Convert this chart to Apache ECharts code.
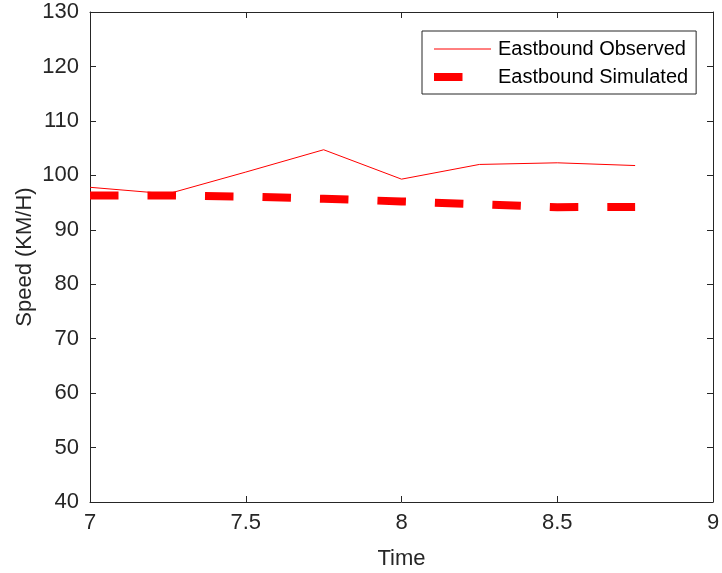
<!DOCTYPE html>
<html>
<head>
<meta charset="utf-8">
<script src="https://cdn.jsdelivr.net/npm/echarts@6/dist/echarts.min.js"></script>
<style>
  html, body { margin: 0; padding: 0; background: #ffffff; }
  #chart { width: 722px; height: 573px; }
</style>
</head>
<body>
<div id="chart"></div>
<script>
// Time of day (hours) at which speeds were sampled
const times = [7, 7.25, 7.5, 7.75, 8, 8.25, 8.5, 8.75];
// Eastbound speeds (km/h)
const observed = [97.8, 96.6, 100.6, 104.7, 99.3, 102.0, 102.3, 101.8];
const simulated = [96.3, 96.3, 96.1, 95.7, 95.2, 94.7, 94.15, 94.2];
// Axis ranges and tick steps
const xTicks = { min: 7, max: 9, step: 0.5 };
const yTicks = { min: 40, max: 130, step: 10 };
const seriesNames = ['Eastbound Observed', 'Eastbound Simulated'];

const FONT = '"Liberation Sans", Arial, Helvetica, sans-serif';
const INK = '#262626';
const RED = '#ff0000';
const DASH = [28.5, 29];

function pairs(xs, ys) { return xs.map((x, i) => [x, ys[i]]); }

const baseAxis = {
  type: 'value',
  axisLine: { show: true, onZero: false, lineStyle: { color: INK, width: 1 } },
  axisTick: { show: true, inside: true, length: 6, lineStyle: { color: INK, width: 1 } },
  splitLine: { show: false }
};

const chart = echarts.init(document.getElementById('chart'), null, { renderer: 'canvas' });
chart.setOption({
  animation: false,
  backgroundColor: '#ffffff',
  grid: { left: 90, right: 9, top: 12, bottom: 71, containLabel: false, outerBoundsMode: 'none' },
  xAxis: [
    Object.assign({}, baseAxis, {
      position: 'bottom', min: xTicks.min, max: xTicks.max, interval: xTicks.step,
      name: 'Time', nameLocation: 'middle', nameGap: 46, nameMoveOverlap: false,
      nameTextStyle: { color: INK, fontSize: 22, fontFamily: FONT },
      axisLabel: { color: INK, fontSize: 22, fontFamily: FONT, margin: 10 }
    }),
    Object.assign({}, baseAxis, {
      position: 'top', min: xTicks.min, max: xTicks.max, interval: xTicks.step,
      axisLabel: { show: false }
    })
  ],
  yAxis: [
    Object.assign({}, baseAxis, {
      position: 'left', min: yTicks.min, max: yTicks.max, interval: yTicks.step,
      name: 'Speed (KM/H)', nameLocation: 'middle', nameGap: 54, nameRotate: 90, nameMoveOverlap: false,
      nameTextStyle: { color: INK, fontSize: 22, fontFamily: FONT },
      axisLabel: { color: INK, fontSize: 22, fontFamily: FONT, margin: 11 }
    }),
    Object.assign({}, baseAxis, {
      position: 'right', min: yTicks.min, max: yTicks.max, interval: yTicks.step,
      axisLabel: { show: false }
    })
  ],
  legend: {
    orient: 'vertical',
    left: 422, top: 31,
    padding: [8, 8, 7, 8],
    itemGap: 8,
    itemWidth: 57, itemHeight: 14,
    backgroundColor: '#ffffff',
    borderColor: INK, borderWidth: 1, borderRadius: 0,
    itemStyle: { opacity: 0 },
    textStyle: { color: '#000000', fontSize: 20, fontFamily: FONT, lineHeight: 20, padding: [0, 0, 0, 2] },
    data: [
      { name: seriesNames[0], lineStyle: { width: 1, color: RED, type: 'solid' } },
      { name: seriesNames[1], lineStyle: { width: 8, color: RED, type: DASH, cap: 'butt' } }
    ]
  },
  series: [
    {
      name: seriesNames[0], type: 'line', xAxisIndex: 0, yAxisIndex: 0,
      data: pairs(times, observed), symbol: 'none',
      lineStyle: { color: RED, width: 1 }, itemStyle: { color: RED }
    },
    {
      name: seriesNames[1], type: 'line', xAxisIndex: 0, yAxisIndex: 0,
      data: pairs(times, simulated), symbol: 'none',
      lineStyle: { color: RED, width: 8, type: DASH, cap: 'butt' }, itemStyle: { color: RED }
    }
  ]
});
</script>
</body>
</html>
